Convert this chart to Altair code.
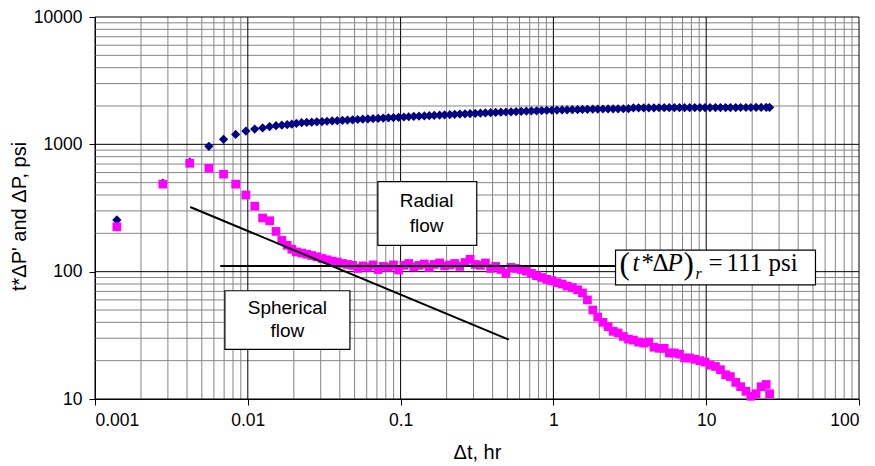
import altair as alt
import pandas as pd

# ---------------- data ----------------
t_hr = [0.00139, 0.00278, 0.00417, 0.00556, 0.00694, 0.00833, 0.00972, 0.0111, 0.0125, 0.0139,
        0.0153, 0.0167, 0.0181, 0.0194, 0.0208,
        0.0225, 0.0243, 0.0262, 0.0283, 0.0306, 0.033, 0.0357, 0.0385, 0.0416, 0.0449,
        0.0485, 0.0524, 0.0566, 0.0611, 0.066, 0.0713, 0.077, 0.0832, 0.0898, 0.097,
        0.105, 0.113, 0.122, 0.132, 0.143, 0.154, 0.166, 0.18, 0.194, 0.21,
        0.226, 0.244, 0.264, 0.285, 0.308, 0.333, 0.359, 0.388, 0.419, 0.453,
        0.489, 0.528, 0.570, 0.616, 0.665, 0.718, 0.776, 0.838, 0.905, 0.977,
        1.055, 1.14, 1.23, 1.33, 1.44, 1.55, 1.67, 1.81, 1.95, 2.11,
        2.28, 2.46, 2.65, 2.87, 3.1, 3.34, 3.61, 3.9, 4.21, 4.55,
        4.91, 5.31, 5.73, 6.19, 6.69, 7.22, 7.8, 8.42, 9.1, 9.82,
        10.6, 11.5, 12.4, 13.4, 14.4, 15.6, 16.8, 18.2, 19.6, 21.2,
        22.9, 24.7, 26.0]

dp_psi = [255, 495, 725, 964, 1094, 1197, 1271, 1318, 1345, 1380,
          1400, 1415, 1428, 1440, 1460,
          1478, 1486, 1494, 1502, 1510, 1518, 1527, 1535, 1543, 1551,
          1559, 1567, 1575, 1583, 1591, 1599, 1607, 1615, 1623, 1631,
          1639, 1647, 1655, 1663, 1671, 1679, 1687, 1695, 1703, 1711,
          1719, 1727, 1735, 1742, 1750, 1757, 1765, 1772, 1780, 1787,
          1794, 1801, 1808, 1815, 1822, 1828, 1834, 1840, 1846, 1852,
          1857, 1862, 1867, 1872, 1876, 1880, 1884, 1888, 1891, 1894,
          1897, 1899, 1901, 1903, 1905, 1932, 1934, 1935, 1936, 1937,
          1938, 1939, 1940, 1940, 1941, 1942, 1942, 1943, 1943, 1944,
          1944, 1945, 1945, 1946, 1946, 1946, 1947, 1947, 1947, 1948,
          1948, 1948, 1949]

deriv_psi = [225, 487, 710, 649, 583, 487, 400, 327, 264, 251,
             207, 176, 161, 150, 143,
             140, 137, 134, 131, 127, 124, 121, 119, 116, 114,
             112, 106, 111, 108, 113, 104, 110, 108, 113, 103,
             112, 116, 109, 112, 115, 108, 114, 117, 111, 113,
             116, 110, 118, 125, 114, 112, 117, 106, 110, 104,
             97, 108, 106, 104, 101, 97, 93, 90, 87, 85,
             82, 80, 77, 75, 72, 68, 60, 50, 44, 40,
             37, 34, 33, 31, 29.5, 29, 28, 27.5, 28, 25.5,
             25, 25, 23, 23, 22.5, 21, 21, 20.5, 20, 19.5,
             18.5, 18, 17, 15.5, 15, 13.5, 12.5, 11.5, 10.5, 11,
             12.5, 13, 11]

# straight-line annotations
spherical_t = [0.0042, 0.51]
spherical_p = [322, 29.3]
radial_t = [0.0066, 2.55]
radial_level = 111

# axis ticks
x_major = [0.001, 0.01, 0.1, 1, 10, 100]
y_major = [10, 100, 1000, 10000]
x_minor = [0.002, 0.003, 0.004, 0.005, 0.006, 0.007, 0.008, 0.009,
           0.02, 0.03, 0.04, 0.05, 0.06, 0.07, 0.08, 0.09,
           0.2, 0.3, 0.4, 0.5, 0.6, 0.7, 0.8, 0.9,
           2, 3, 4, 5, 6, 7, 8, 9,
           20, 30, 40, 50, 60, 70, 80, 90]
y_minor = [20, 30, 40, 50, 60, 70, 80, 90,
           200, 300, 400, 500, 600, 700, 800, 900,
           2000, 3000, 4000, 5000, 6000, 7000, 8000, 9000]

# text boxes (data coordinates)
box_t1 = [0.0710, 0.00708, 2.55]
box_t2 = [0.315, 0.0466, 51.9]
box_p1 = [509, 70.8, 147.6]
box_p2 = [161, 24.5, 78.7]

SANS = "Liberation Sans"
SERIF = "Liberation Serif"

xs = alt.Scale(type="log", domain=[0.001, 100], nice=False)
ys = alt.Scale(type="log", domain=[10, 10000], nice=False)

df = pd.DataFrame({"t": t_hr, "dp": dp_psi, "dd": deriv_psi})

x_axis = alt.Axis(values=x_major, format="~g", grid=False, tickSize=6, tickColor="black",
                  domainColor="black", labelFont=SANS, labelFontSize=17.5, labelColor="black",
                  labelPadding=6, title="Δt, hr", titleFont=SANS, titleFontSize=20,
                  titleFontWeight="normal", titleColor="black", titleX=382, titleY=53,
                  titleBaseline="middle", titleAlign="center")
y_axis = alt.Axis(values=y_major, format="~g", grid=False, tickSize=6, tickColor="black",
                  domainColor="black", labelFont=SANS, labelFontSize=17.5, labelColor="black",
                  labelPadding=7, title="t*ΔP' and ΔP, psi", titleFont=SANS, titleFontSize=20,
                  titleFontWeight="normal", titleColor="black", titleAngle=270, titleX=-76,
                  titleY=199, titleBaseline="middle", titleAlign="center")


def X(f):
    return alt.X(f, scale=xs, axis=x_axis)


def Y(f):
    return alt.Y(f, scale=ys, axis=y_axis)


grid_minor_x = alt.Chart(pd.DataFrame({"v": x_minor})).mark_rule(color="#858585", strokeWidth=1).encode(
    x=X("v:Q"))
grid_minor_y = alt.Chart(pd.DataFrame({"v": y_minor})).mark_rule(color="#858585", strokeWidth=1).encode(
    y=Y("v:Q"))
grid_major_x = alt.Chart(pd.DataFrame({"v": x_major})).mark_rule(color="black", strokeWidth=1).encode(
    x=X("v:Q"))
grid_major_y = alt.Chart(pd.DataFrame({"v": y_major})).mark_rule(color="black", strokeWidth=1).encode(
    y=Y("v:Q"))

dp_pts = alt.Chart(df).mark_point(shape="diamond", filled=True, color="#000080", size=85, opacity=1).encode(
    x=X("t:Q"), y=Y("dp:Q"))
dd_pts = alt.Chart(df).mark_point(shape="square", filled=True, color="#FF00FF", size=76, opacity=1).encode(
    x=X("t:Q"), y=Y("dd:Q"))

sph_line = alt.Chart(pd.DataFrame({"t": spherical_t, "p": spherical_p})).mark_line(
    color="black", strokeWidth=2).encode(x=X("t:Q"), y=Y("p:Q"))
rad_line = alt.Chart(pd.DataFrame({"t": [radial_t[0]], "t2": [radial_t[1]], "p": [radial_level]})).mark_rule(
    color="black", strokeWidth=2).encode(x=X("t:Q"), x2="t2:Q", y=Y("p:Q"))

boxes = alt.Chart(pd.DataFrame({"a": box_t1, "b": box_t2, "c": box_p1, "d": box_p2})).mark_rect(
    fill="white", stroke="black", strokeWidth=1.2).encode(
    x=X("a:Q"), x2="b:Q", y=Y("c:Q"), y2="d:Q")


def txt(t, p, s, font=SANS, size=19, style="normal", dx=0, dy=0, align="center", baseline="middle"):
    return alt.Chart(pd.DataFrame({"t": [t], "p": [p], "s": [s]})).mark_text(
        font=font, fontSize=size, fontStyle=style, dx=dx, dy=dy, align=align, baseline=baseline,
        color="black").encode(x=X("t:Q"), y=Y("p:Q"), text="s:N")


texts = [
    txt(0.148, 356, "Radial"), txt(0.148, 227, "flow"),
    txt(0.01815, 52.1, "Spherical"), txt(0.01815, 33.9, "flow"),
]
lx, ly = 2.55, 111
eq = [("(", 4, 8, 31, "normal"), ("t", 17, 5, 25, "italic"), ("*", 26, 5, 25, "normal"),
      ("Δ", 37, 5, 25, "normal"), ("P", 52, 5, 25, "italic"), (")", 68, 8, 31, "normal"),
      ("r", 80, 13, 16, "italic"), ("=", 93, 5, 25, "normal"), ("111 psi", 111, 5, 25, "normal")]
for s, dx, dy, size, style in eq:
    texts.append(txt(lx, ly, s, font=SERIF, size=size, style=style, dx=dx, dy=dy,
                     align="left", baseline="alphabetic"))

chart = alt.layer(grid_minor_x, grid_minor_y, grid_major_x, grid_major_y, dp_pts, dd_pts,
                  sph_line, rad_line, boxes, *texts).properties(
    width=764, height=382,
    autosize=alt.AutoSizeParams(type="none"),
    padding={"left": 87, "top": 9, "right": 8, "bottom": 72},
).configure_view(strokeWidth=0)

chart.save("out.html", embed_options={"renderer": "svg", "actions": False})
